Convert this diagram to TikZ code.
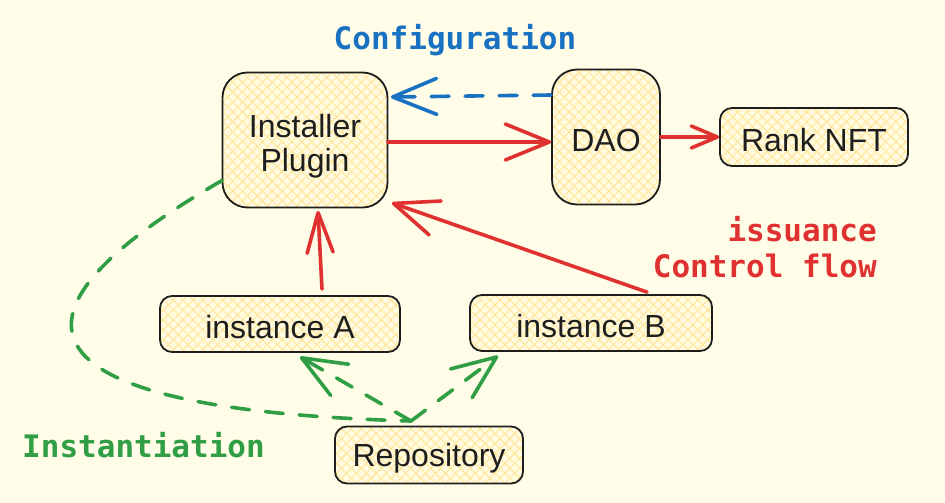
\documentclass[tikz,border=0pt]{standalone}
\usepackage{fontspec}
\setmainfont{Liberation Sans}
\newfontfamily\labelfont{DejaVu Sans Mono}
\usetikzlibrary{arrows.meta,patterns.meta}
\definecolor{bgc}{HTML}{FFFDE8}
\definecolor{boxbg}{HTML}{FFFAE0}
\definecolor{hatch}{HTML}{FFE38A}
\definecolor{ink}{HTML}{1E1E1E}
\definecolor{cblue}{HTML}{1971C2}
\definecolor{cred}{HTML}{E03131}
\definecolor{cgreen}{HTML}{2F9E44}
\newcommand{\lowstrut}{\rule{0pt}{29pt}}
\tikzset{
  box/.style={draw=ink, line width=1.8pt, rounded corners=#1, text=ink,
    font=\fontsize{32}{34}\selectfont, align=center, inner sep=0pt,
    preaction={fill=boxbg},
    preaction={pattern={Lines[angle=45,distance=7pt,line width=0.75pt]}, pattern color=hatch},
    pattern={Lines[angle=-45,distance=7pt,line width=0.75pt]}, pattern color=hatch},
  box/.default=12pt,
  conn/.style={line width=3.6pt, line cap=round, line join=round},
  bigtip/.style={-{Straight Barb[length=44pt,width=36pt,line cap=round,line join=round]}},
  smalltip/.style={-{Straight Barb[length=26pt,width=22pt,line cap=round,line join=round]}},
  dashline/.style={dash pattern=on 18pt off 16pt},
  lbl/.style={font=\labelfont\bfseries\fontsize{31}{36}\selectfont, inner sep=0pt}
}
\begin{document}
\begin{tikzpicture}[x=1pt,y=-1pt]
\fill[bgc] (0,0) rectangle (945,503);
\useasboundingbox (0,0) rectangle (945,503);

\node[box=25pt, minimum width=165pt, minimum height=135pt] (inst) at (305,140) {\rule{0pt}{36pt}Installer\\Plugin};
\node[box=25pt, minimum width=108pt, minimum height=135pt] (dao) at (606,137) {\lowstrut DAO};
\node[box, minimum width=188pt, minimum height=58pt] (rank) at (814,137) {\lowstrut Rank NFT};
\node[box, minimum width=240pt, minimum height=56pt] (instA) at (280,324) {\lowstrut instance A};
\node[box, minimum width=242pt, minimum height=56pt] (instB) at (591,323) {\lowstrut instance B};
\node[box, minimum width=188pt, minimum height=57pt] (repo) at (429,455) {\lowstrut Repository};

\node[lbl, text=cblue] (lconf) at (455,40) {Configuration};
\node[lbl, text=cred, anchor=east] (liss) at (877,229) {issuance};
\node[lbl, text=cred, anchor=east] (lctl) at (877,266) {Control flow};
\node[lbl, text=cgreen, anchor=west] (linst) at (22,445) {Instantiation};

\coordinate (rj) at (411,421);

% configuration
\draw[conn, cblue, dashline, bigtip] ([yshift=42pt]dao.west) -- ([xshift=3pt,yshift=43pt]inst.east);
% control flow
\draw[conn, cred, bigtip] ([yshift=-2pt]inst.east) -- ([yshift=-5pt]dao.west);
\draw[conn, cred, smalltip] (dao.east) -- (rank.west);
\draw[conn, cred, -{Straight Barb[length=40pt,width=26pt,line cap=round,line join=round]}] ([xshift=42pt,yshift=6pt]instA.north) -- ([xshift=13pt,yshift=-3pt]inst.south);
\draw[conn, cred, bigtip] ([xshift=56pt,yshift=2pt]instB.north) -- ([xshift=4pt,yshift=5pt]inst.south east);
% instantiation
\draw[conn, cgreen, dashline, bigtip] (rj) -- ([xshift=20pt,yshift=-4pt]instA.south);
\draw[conn, cgreen, dashline, bigtip] (rj) -- ([xshift=-93pt,yshift=-4pt]instB.south);
\draw[conn, cgreen, dashline] (inst.206) .. controls (-20,320) and (20,410) .. (rj);
\end{tikzpicture}
\end{document}
